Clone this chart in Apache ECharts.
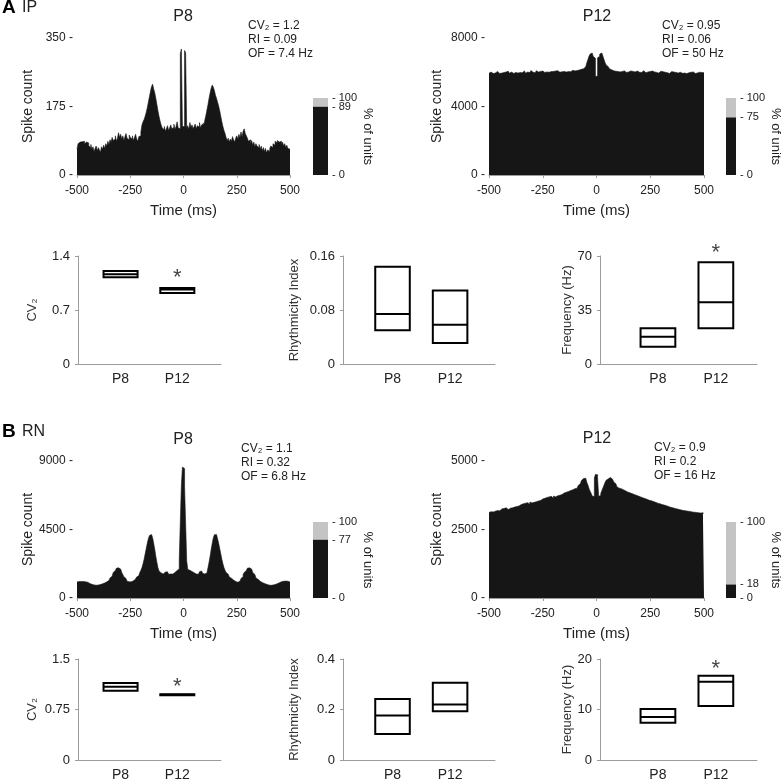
<!DOCTYPE html>
<html>
<head>
<meta charset="utf-8">
<script src="https://cdn.jsdelivr.net/npm/echarts@6/dist/echarts.min.js"></script>
<style>
  html, body { margin: 0; padding: 0; background: #fff; }
  #chart { width: 783px; height: 782px; }
</style>
</head>
<body>
<div id="chart"></div>
<script>
// autocorrelogram bins: 5 ms, from -500 to +500 ms
const binStart = -500;
const binWidth = 5;
const timeTicks = [-500, -250, 0, 250, 500];

const ipP8Counts = [
  66, 80, 84, 82, 85, 83, 86, 80, 84, 79,
  82, 75, 70, 78, 66, 72, 60, 68, 74, 62,
  70, 64, 58, 72, 66, 76, 68, 80, 74, 86,
  78, 90, 84, 96, 88, 92, 100, 86, 94, 108,
  96, 104, 92, 100, 88, 98, 106, 94, 90, 102,
  96, 92, 100, 88, 96, 104, 92, 86, 98, 100,
  110, 128, 136, 142, 150, 160, 172, 186, 200, 214,
  226, 232, 220, 210, 196, 180, 164, 150, 138, 128,
  120, 116, 124, 112, 118, 126, 114, 120, 128, 118,
  122, 130, 116, 124, 136, 120, 118, 310, 322, 124,
  124, 318, 312, 120, 126, 116, 134, 122, 128, 118,
  124, 130, 118, 126, 122, 134, 120, 128, 132, 126,
  140, 152, 166, 180, 196, 210, 222, 230, 224, 216,
  204, 196, 186, 176, 164, 150, 136, 124, 114, 106,
  96, 88, 94, 84, 92, 86, 98, 90, 84, 94,
  100, 92, 104, 96, 110, 98, 112, 118, 106, 100,
  94, 86, 90, 80, 88, 76, 84, 72, 80, 74,
  70, 78, 66, 74, 62, 70, 60, 68, 56, 64,
  60, 68, 74, 70, 80, 76, 86, 82, 88, 84,
  80, 86, 78, 84, 74, 80, 70, 76, 68, 66
];

const ipP12Counts = [
  5940, 6010, 5980, 5920, 6030, 5960, 5990, 6050, 5970, 5930,
  6000, 5950, 6040, 5980, 5910, 6020, 5970, 6060, 5990, 5940,
  6010, 5960, 5930, 6040, 5990, 6070, 5950, 6000, 5980, 6030,
  5970, 6020, 6080, 5990, 5940, 6010, 6050, 5980, 6030, 6100,
  6000, 6060, 5970, 6020, 6090, 6010, 5960, 6050, 6000, 6070,
  6030, 5990, 6080, 6020, 6060, 6000, 6110, 6040, 5980, 6050,
  6020, 6070, 6010, 6090, 6040, 6000, 6080, 6030, 6100, 6050,
  6060, 6010, 6090, 6040, 6120, 6030, 6070, 6110, 6050, 6080,
  6040, 6100, 6060, 6130, 6110, 6170, 6150, 6210, 6250, 6320,
  6420, 6560, 6740, 6930, 7060, 7120, 7060, 6920, 6820, 5760,
  5760, 6840, 6940, 7060, 7120, 7070, 6930, 6750, 6560, 6420,
  6320, 6250, 6200, 6150, 6120, 6090, 6110, 6060, 6080, 6040,
  6070, 6020, 6090, 6050, 6010, 6080, 6040, 5990, 6060, 6020,
  6030, 6080, 6000, 6050, 6110, 6020, 5980, 6070, 6030, 6000,
  6050, 5990, 6040, 6090, 6010, 5970, 6060, 6020, 5980, 6040,
  6000, 6070, 5960, 6020, 6080, 5990, 6030, 5950, 6010, 6060,
  5980, 6030, 5940, 6000, 6050, 5970, 6010, 5930, 5990, 6040,
  5960, 6010, 5930, 5990, 6040, 5950, 5920, 6000, 5970, 5940,
  6010, 5950, 5990, 5920, 6030, 5970, 5940, 6000, 5960, 6020,
  5980, 5930, 6010, 5960, 5920, 6000, 5950, 5990, 5940, 5970
];

const rnP8Counts = [
  1050, 1080, 1100, 1090, 1110, 1080, 1100, 1060, 1070, 1040,
  1000, 960, 940, 900, 880, 860, 850, 840, 830, 850,
  860, 880, 900, 930, 960, 990, 1020, 1060, 1100, 1150,
  1230, 1320, 1430, 1550, 1680, 1800, 1900, 1960, 1980, 1960,
  1900, 1800, 1680, 1540, 1400, 1280, 1180, 1100, 1060, 1040,
  1060, 1090, 1130, 1180, 1240, 1300, 1380, 1460, 1560, 1680,
  1820, 2000, 2250, 2550, 2900, 3250, 3600, 3900, 4100, 4170,
  4150, 3950, 3600, 3200, 2750, 2350, 2000, 1780, 1650, 1600,
  1580, 1620, 1700, 1780, 1720, 1620, 1560, 1580, 1600, 1570,
  1620, 1680, 1740, 1800, 1820, 1900, 2500, 5000, 7400, 8600,
  8500, 7350, 4900, 2450, 1880, 1820, 1780, 1740, 1700, 1660,
  1600, 1580, 1620, 1560, 1640, 1720, 1780, 1700, 1620, 1580,
  1600, 1650, 1780, 2000, 2350, 2750, 3200, 3600, 3950, 4150,
  4170, 4100, 3900, 3600, 3250, 2900, 2550, 2250, 2000, 1820,
  1680, 1560, 1460, 1380, 1300, 1240, 1180, 1130, 1090, 1060,
  1040, 1060, 1100, 1180, 1280, 1400, 1540, 1680, 1800, 1900,
  1960, 1980, 1960, 1900, 1800, 1680, 1550, 1430, 1320, 1230,
  1150, 1100, 1060, 1020, 990, 960, 930, 900, 880, 860,
  850, 830, 840, 850, 860, 880, 900, 940, 960, 1000,
  1040, 1070, 1060, 1100, 1080, 1110, 1090, 1100, 1080, 1050
];

const rnP12Counts = [
  3120, 3150, 3180, 3140, 3200, 3170, 3210, 3190, 3230, 3180,
  3220, 3250, 3210, 3270, 3240, 3290, 3260, 3230, 3300, 3280,
  3310, 3290, 3350, 3320, 3380, 3340, 3400, 3360, 3330, 3410,
  3380, 3440, 3410, 3460, 3430, 3480, 3450, 3420, 3500, 3470,
  3520, 3490, 3550, 3510, 3580, 3540, 3600, 3560, 3530, 3610,
  3580, 3640, 3600, 3670, 3620, 3690, 3650, 3710, 3680, 3640,
  3720, 3690, 3760, 3730, 3790, 3750, 3820, 3780, 3740, 3830,
  3800, 3860, 3820, 3890, 3850, 3920, 3880, 3950, 3910, 3990,
  3960, 4010, 4060, 4110, 4170, 4230, 4290, 4360, 4390, 4370,
  4300, 4220, 4120, 4000, 3900, 3820, 3720, 3700, 4380, 4510,
  4500, 4390, 3710, 3740, 3820, 3920, 4020, 4120, 4220, 4300,
  4350, 4380, 4400, 4370, 4330, 4280, 4230, 4170, 4110, 4060,
  4010, 3960, 3990, 3920, 3950, 3880, 3910, 3850, 3870, 3820,
  3840, 3790, 3810, 3760, 3780, 3730, 3750, 3700, 3720, 3680,
  3690, 3640, 3660, 3610, 3630, 3580, 3600, 3560, 3570, 3530,
  3550, 3500, 3520, 3470, 3490, 3450, 3460, 3420, 3440, 3400,
  3410, 3380, 3390, 3350, 3370, 3320, 3340, 3300, 3310, 3280,
  3290, 3260, 3270, 3230, 3250, 3210, 3230, 3200, 3210, 3180,
  3190, 3160, 3180, 3140, 3170, 3130, 3160, 3120, 3140, 3110,
  3130, 3100, 3120, 3090, 3110, 3080, 3100, 3090, 3110, 3080
];

// % of rhythmic units (rest shown grey up to 100)
const unitPctIP = [89, 75];
const unitPctRN = [77, 18];

const groups = ['P8', 'P12'];
// boxes: [q1, median, q3] for P8, P12
const ipCV2 = [[1.125, 1.165, 1.205], [0.92, 0.965, 0.985]];
const ipRI = [[0.050, 0.074, 0.144], [0.031, 0.058, 0.109]];
const ipFreq = [[11.2, 17.7, 23.1], [23.1, 40.0, 65.9]];
const rnCV2 = [[1.028, 1.089, 1.145], [0.962, 0.970, 0.978]];
const rnRI = [[0.103, 0.176, 0.242], [0.193, 0.220, 0.306]];
const rnFreq = [[7.4, 8.5, 10.1], [10.7, 15.5, 16.7]];

// significance stars (P12), y value of the star
const starIP = { cv2: 1.18, freq: 75.2 };
const starRN = { cv2: 1.16, freq: 19.1 };

const statsIP = ['CV\u2082 = 1.2\nRI = 0.09\nOF = 7.4 Hz', 'CV\u2082 = 0.95\nRI = 0.06\nOF = 50 Hz'];
const statsRN = ['CV\u2082 = 1.1\nRI = 0.32\nOF = 6.8 Hz', 'CV\u2082 = 0.9\nRI = 0.2\nOF = 16 Hz'];

const FONT = '"Liberation Sans", Arial, sans-serif';
const NARROW = '"Liberation Sans Narrow", "Liberation Sans", Arial, sans-serif';
const INK = '#161616';
const AXIS = '#9c9c9c';
const GREY = '#c4c4c4';
const TXT = '#222';

const chart = echarts.init(document.getElementById('chart'));
const grid = [], xAxis = [], yAxis = [], series = [], graphic = [];

function addHist(left, top, width, counts, yMax, nameGap) {
  const gi = grid.length;
  const yi = yAxis.length;
  grid.push({ left, top, width, height: 137 });
  xAxis.push({
    gridIndex: gi, type: 'value', min: timeTicks[0], max: timeTicks[timeTicks.length - 1], interval: 250,
    name: 'Time (ms)', nameLocation: 'middle', nameGap: 28,
    nameTextStyle: { fontSize: 15, color: TXT, fontFamily: FONT },
    axisLine: { lineStyle: { color: AXIS } },
    axisTick: { length: 3, lineStyle: { color: AXIS } },
    axisLabel: { fontSize: 12, color: TXT, fontFamily: FONT, margin: 10, showMinLabel: true, showMaxLabel: true },
    splitLine: { show: false }
  });
  yAxis.push({
    gridIndex: gi, type: 'value', min: 0, max: yMax, interval: yMax / 2,
    name: 'Spike count', nameLocation: 'middle', nameGap,
    nameTextStyle: { fontSize: 14, color: TXT, fontFamily: FONT },
    axisLine: { show: false }, axisTick: { show: false },
    axisLabel: { formatter: v => v + ' -', fontSize: 12, color: TXT, fontFamily: FONT, margin: 4 },
    splitLine: { show: false }
  });
  const data = counts.map((v, k) => [binStart + k * binWidth, v]);
  data.push([binStart + counts.length * binWidth, counts[counts.length - 1]]);
  series.push({
    type: 'line', xAxisIndex: gi, yAxisIndex: yi, data, step: 'end', symbol: 'none',
    lineStyle: { width: 0.6, color: INK }, areaStyle: { color: INK, opacity: 1 }, silent: true
  });
}

function addUnits(left, top, width, height, pct) {
  const gi = grid.length;
  const yi = yAxis.length;
  grid.push({ left, top, width, height });
  xAxis.push({ gridIndex: gi, type: 'category', data: ['units'], show: false });
  const labelStyle = { formatter: v => '- ' + v, fontSize: 11, color: TXT, fontFamily: FONT, margin: 4, showMinLabel: true, showMaxLabel: true };
  yAxis.push({
    gridIndex: gi, type: 'value', min: 0, max: 100, position: 'right',
    name: '% of units', nameLocation: 'middle', nameRotate: -90, nameGap: 27,
    nameTextStyle: { fontSize: 13, color: TXT, fontFamily: FONT },
    axisLine: { show: false }, axisTick: { show: false }, splitLine: { show: false },
    axisLabel: Object.assign({ customValues: [0, 100] }, labelStyle)
  });
  // second axis on the same grid, only to label the rhythmic fraction
  yAxis.push({
    gridIndex: gi, type: 'value', min: 0, max: 100, position: 'right',
    axisLine: { show: false }, axisTick: { show: false }, splitLine: { show: false },
    axisLabel: Object.assign({ customValues: [pct], padding: [pct > 85 ? 6 : 2, 0, 0, 0] }, labelStyle)
  });
  series.push({ type: 'bar', xAxisIndex: gi, yAxisIndex: yi, stack: 's' + gi, data: [pct], barWidth: '100%', itemStyle: { color: INK }, silent: true });
  series.push({ type: 'bar', xAxisIndex: gi, yAxisIndex: yi, stack: 's' + gi, data: [100 - pct], barWidth: '100%', itemStyle: { color: GREY }, silent: true });
}

function renderBox(params, api) {
  const x = api.value(0);
  const lo = api.coord([x, api.value(1)]);
  const md = api.coord([x, api.value(2)]);
  const hi = api.coord([x, api.value(3)]);
  const w = api.size([0.6, 0])[0];
  return {
    type: 'group',
    children: [
      { type: 'rect', shape: { x: lo[0] - w / 2, y: hi[1], width: w, height: lo[1] - hi[1] },
        style: { fill: '#fff', stroke: '#000', lineWidth: 2 } },
      { type: 'line', shape: { x1: lo[0] - w / 2, y1: md[1], x2: lo[0] + w / 2, y2: md[1] },
        style: { stroke: '#000', lineWidth: 2 } }
    ]
  };
}

function addBox(left, top, width, xMin, xMax, yMax, name, nameGap, boxes, star) {
  const gi = grid.length;
  const yi = yAxis.length;
  grid.push({ left, top, width, height: top > 500 ? 106 : 108 });
  xAxis.push({
    gridIndex: gi, type: 'value', min: xMin, max: xMax,
    axisLine: { lineStyle: { color: AXIS } }, axisTick: { show: false }, splitLine: { show: false },
    axisLabel: { customValues: [1, 2], formatter: v => groups[Math.round(v) - 1], fontSize: 14, color: TXT, fontFamily: NARROW, margin: 8 }
  });
  yAxis.push({
    gridIndex: gi, type: 'value', min: 0, max: yMax, interval: yMax / 2,
    name, nameLocation: 'middle', nameGap,
    nameTextStyle: { fontSize: 13, color: '#333', fontFamily: FONT },
    axisLine: { show: true, lineStyle: { color: AXIS } },
    axisTick: { show: true, length: 3, lineStyle: { color: AXIS } },
    axisLabel: { fontSize: 13, color: TXT, fontFamily: FONT, margin: 8 },
    splitLine: { show: false }
  });
  series.push({
    type: 'custom', xAxisIndex: gi, yAxisIndex: yi, renderItem: renderBox, clip: false, silent: true,
    data: boxes.map((b, k) => [k + 1, b[0], b[1], b[2]])
  });
  if (star !== undefined) {
    series.push({
      type: 'scatter', xAxisIndex: gi, yAxisIndex: yi, data: [[2, star]], symbolSize: 0, clip: false, silent: true,
      label: { show: true, position: 'inside', formatter: '*', fontSize: 22, color: '#111', fontFamily: FONT, offset: [0, 5] }
    });
  }
}

// row A (IP)
addHist(77, 38, 213, ipP8Counts, 350, 42);
addHist(489, 38, 215, ipP12Counts, 8000, 45);
addUnits(313, 98, 15, 77, unitPctIP[0]);
addUnits(726, 98, 16, 77, unitPctIP[1]);
addBox(78, 256, 143, 0.25, 2.77, 1.4, 'CV\u2082', 39, ipCV2, starIP.cv2);
addBox(343, 256, 152, 0.14, 2.78, 0.16, 'Rhythmicity Index', 42, ipRI);
addBox(600, 256, 157, 0, 2.71, 70, 'Frequency (Hz)', 21, ipFreq, starIP.freq);

// row B (RN)
addHist(77, 461, 213, rnP8Counts, 9000, 42);
addHist(489, 461, 215, rnP12Counts, 5000, 45);
addUnits(313, 522, 15, 76, unitPctRN[0]);
addUnits(726, 522, 16, 76, unitPctRN[1]);
addBox(78, 659, 143, 0.25, 2.77, 1.5, 'CV\u2082', 39, rnCV2, starRN.cv2);
addBox(343, 659, 152, 0.14, 2.78, 0.4, 'Rhythmicity Index', 42, rnRI);
addBox(600, 659, 157, 0, 2.71, 20, 'Frequency (Hz)', 21, rnFreq, starRN.freq);

function text(x, y, str, size, opts) {
  graphic.push({
    type: 'text', x, y, silent: true,
    style: Object.assign({ text: str, fontSize: size, fontFamily: FONT, fill: TXT, align: 'left', verticalAlign: 'middle' }, opts || {})
  });
}

// panel letters and titles
text(2, 8, 'A', 19, { fontWeight: 'bold', fill: '#000' });
text(22, 8, 'IP', 16);
text(2, 432, 'B', 19, { fontWeight: 'bold', fill: '#000' });
text(22, 432, 'RN', 16);
text(183, 17, 'P8', 16, { align: 'center' });
text(597, 17, 'P12', 16, { align: 'center' });
text(183, 440, 'P8', 16, { align: 'center' });
text(597, 439, 'P12', 16, { align: 'center' });

// spike-train statistics
text(248, 19, statsIP[0], 12, { verticalAlign: 'top', lineHeight: 14 });
text(662, 19, statsIP[1], 12, { verticalAlign: 'top', lineHeight: 14 });
text(241, 442, statsRN[0], 12, { verticalAlign: 'top', lineHeight: 14 });
text(654, 441, statsRN[1], 12, { verticalAlign: 'top', lineHeight: 14 });

chart.setOption({
  animation: false,
  backgroundColor: '#fff',
  grid, xAxis, yAxis, series, graphic
});
</script>
</body>
</html>
